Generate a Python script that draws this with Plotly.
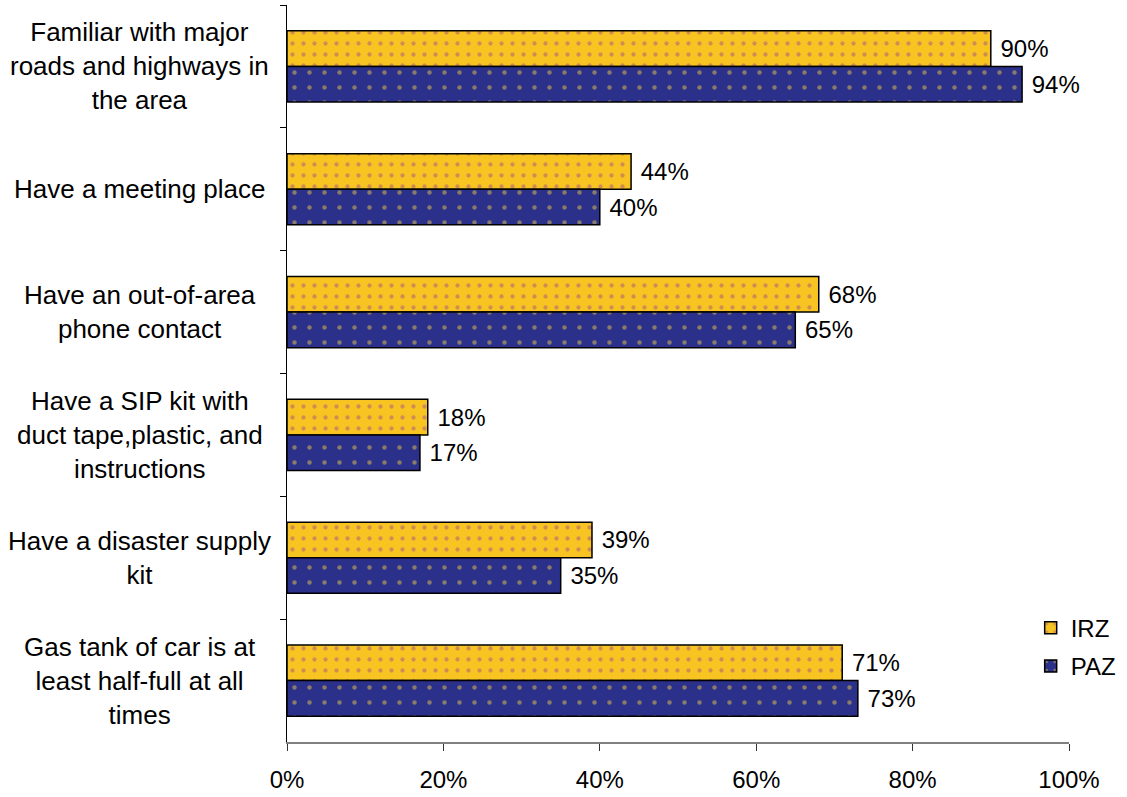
import plotly.graph_objects as go

categories = [
    "Familiar with major<br>roads and highways in<br>the area",
    "Have a meeting place",
    "Have an out-of-area<br>phone contact",
    "Have a SIP kit with<br>duct tape,plastic, and<br>instructions",
    "Have a disaster supply<br>kit",
    "Gas tank of car is at<br>least half-full at all<br>times",
]
irz = [90, 44, 68, 18, 39, 71]
paz = [94, 40, 65, 17, 35, 73]
x_ticks = [0, 20, 40, 60, 80, 100]
x_tick_labels = ["0%", "20%", "40%", "60%", "80%", "100%"]

FONT = "Liberation Sans, Arial, sans-serif"

fig = go.Figure()
fig.add_trace(go.Bar(
    name="IRZ", y=categories, x=irz, orientation="h", legendgroup="a",
    marker=dict(color="#F7C422", line=dict(color="black", width=1.5),
                pattern=dict(shape=".", size=11, solidity=0.12,
                             fgcolor="#A8587E", bgcolor="#F7C422", fillmode="overlay")),
    text=[f" {v}%" for v in irz], textposition="outside",
    textfont=dict(size=24, color="black", family=FONT), cliponaxis=False,
))
fig.add_trace(go.Bar(
    name="PAZ", y=categories, x=paz, orientation="h", legendgroup="b",
    marker=dict(color="#2B318A", line=dict(color="black", width=1.5),
                pattern=dict(shape=".", size=15, solidity=0.07,
                             fgcolor="#E8C44A", bgcolor="#2B318A", fillmode="overlay")),
    text=[f" {v}%" for v in paz], textposition="outside",
    textfont=dict(size=24, color="black", family=FONT), cliponaxis=False,
))

for c in categories:
    fig.add_annotation(
        text=c, xref="paper", x=-0.188, yref="y", y=c,
        xanchor="center", yanchor="middle", align="center", showarrow=False,
        font=dict(size=26, color="black", family=FONT),
    )

fig.update_layout(
    width=1127, height=797,
    margin=dict(l=287, r=58, t=5, b=55, autoexpand=False),
    paper_bgcolor="white", plot_bgcolor="white",
    barmode="group", bargap=0.42, bargroupgap=0.0,
    font=dict(family=FONT, size=24, color="black"),
    showlegend=True,
    legend=dict(x=0.951, y=0.185, xanchor="left", yanchor="top",
                font=dict(size=24, family=FONT), traceorder="grouped",
                bgcolor="rgba(0,0,0,0)", itemwidth=30, tracegroupgap=4),
    xaxis=dict(range=[0, 100], tickvals=x_ticks, ticktext=x_tick_labels,
               showgrid=False, zeroline=False, showline=True, linecolor="#808080",
               linewidth=2, ticks="outside", ticklen=7, tickcolor="#333333",
               ticklabelstandoff=8,
               tickfont=dict(size=24, family=FONT)),
    yaxis=dict(type="category", autorange="reversed", showticklabels=False,
               tickson="boundaries", ticks="outside", ticklen=6, tickcolor="black",
               showline=True, linecolor="black", linewidth=1, showgrid=False),
)

fig.write_html("out.html", config={"displayModeBar": False},
               post_script="document.body.style.margin='0';")
